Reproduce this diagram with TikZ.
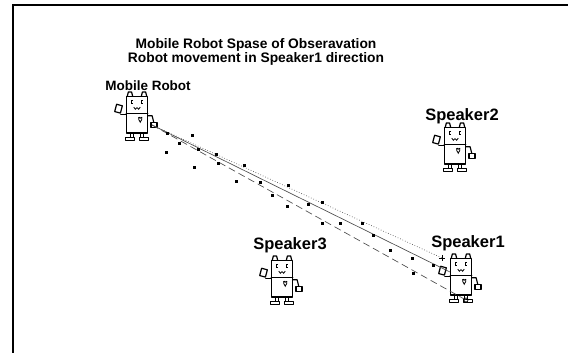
\documentclass[tikz,border=0pt]{standalone}
\usepackage{fontspec}
\setmainfont{Liberation Sans}
\usetikzlibrary{calc}
\begin{document}
\begin{tikzpicture}[x=1pt,y=-1pt,
  robotline/.style={line width=1.2pt, line join=round, line cap=round},
  facepart/.style={line width=0.8pt},
  heading/.style={font=\fontsize{13.8}{12.5}\selectfont\bfseries, align=center, inner sep=0},
  botname/.style={font=\fontsize{13.5}{14}\selectfont\bfseries, inner sep=0},
  spkname/.style={font=\fontsize{16.5}{17}\selectfont\bfseries, inner sep=0},
  track/.style={line width=0.65pt, draw=black!70},
  obs/.style={fill=black},
  robot/.pic={
    \begin{scope}[scale=1.08]
    % ears
    \draw[robotline] (-9,4) -- (-8,0) -- (-5,0) -- (-4,4);
    \draw[robotline] (4,4) -- (5,0) -- (8,0) -- (9,4);
    % head and torso
    \draw[robotline, fill=white] (-10,4) rectangle (10,38);
    \draw[robotline] (-10,20) -- (10,20);
    % eyes and mouth
    \draw[facepart] (-3.5,8) -- (-5,8) -- (-5,11) -- (-3.5,11);
    \draw[facepart] (5.5,8) -- (4,8) -- (4,11) -- (5.5,11);
    \draw[facepart] (-3,14) -- (-1.5,16) -- (0,14.5) -- (1.5,16) -- (3,14);
    % heart on the chest
    \draw[facepart] (3,24.5) .. controls (2,22) and (0,24) .. (3,28)
                    .. controls (6,24) and (4,22) .. (3,24.5);
    % left arm holding a flag
    \draw[robotline] (-10,21) -- (-15,21);
    \draw[robotline, fill=white, rotate around={-15:(-17,16)}] (-20,12) rectangle (-14.5,19);
    % right arm with hanging hand
    \draw[robotline] (10,22) -- (14,22) -- (15.5,28);
    \draw[robotline, fill=white] (13,28) rectangle (18.5,32.5);
    % legs and feet
    \draw[robotline] (-6,38) rectangle (-3,42);
    \draw[robotline] (3,38) rectangle (6,42);
    \draw[robotline, fill=white] (-10.5,42) rectangle (-2,45);
    \draw[robotline, fill=white] (2,42) rectangle (10.5,45);
    \end{scope}
  }]
\useasboundingbox (0,0) rectangle (568,353);
\fill[white] (0,0) rectangle (568,353);

% frame
\draw[line width=1.8pt] (13,353) -- (13,5) -- (568,5);

% heading
\node[heading] (head) at (256,52) {Mobile Robot Spase of Obseravation\\Robot movement in Speaker1 direction};

% robots
\pic[local bounding box=mrbot] at (137,92) {robot};
\pic[local bounding box=spk2] at (455,123) {robot};
\pic[local bounding box=spk3] at (282,256) {robot};
\pic[local bounding box=spk1] at (461,254) {robot};

% names
\node[botname] (lmr) at (148,86) {Mobile Robot};
\node[spkname] (ls2) at (462,116) {Speaker2};
\node[spkname] (ls3) at (290,245) {Speaker3};
\node[spkname] (ls1) at (468,243) {Speaker1};

% movement tracks
\coordinate (hand) at (152,125);
\coordinate (enddot) at (442,258);
\coordinate (endsolid) at (450,272);
\coordinate (enddash) at (466,300);
\draw[track, dotted] (hand) -- (enddot);
\draw[track] (hand) -- (endsolid);
\draw[track, dash pattern=on 7pt off 4pt] (hand) -- (enddash);
\draw[line width=0.5pt] ($(enddot)+(-3,0)$) -- ++(6,0) ($(enddot)+(0,-3)$) -- ++(0,6);
\draw[line width=0.7pt] (enddash) circle (2);

% observation points
\foreach \x/\y in {167/133, 192/135, 179/143, 166/152, 198/149, 216/154, 218/163,
                   194/167, 244/165, 236/181, 260/182, 288/185, 272/195, 308/204,
                   322/202, 287/206, 322/223, 340/223, 362/223, 373/235, 390/250,
                   412/258, 413/273, 433/265}
  \fill[obs] (\x-1.5,\y-1.5) rectangle ++(3,3);
\end{tikzpicture}
\end{document}
